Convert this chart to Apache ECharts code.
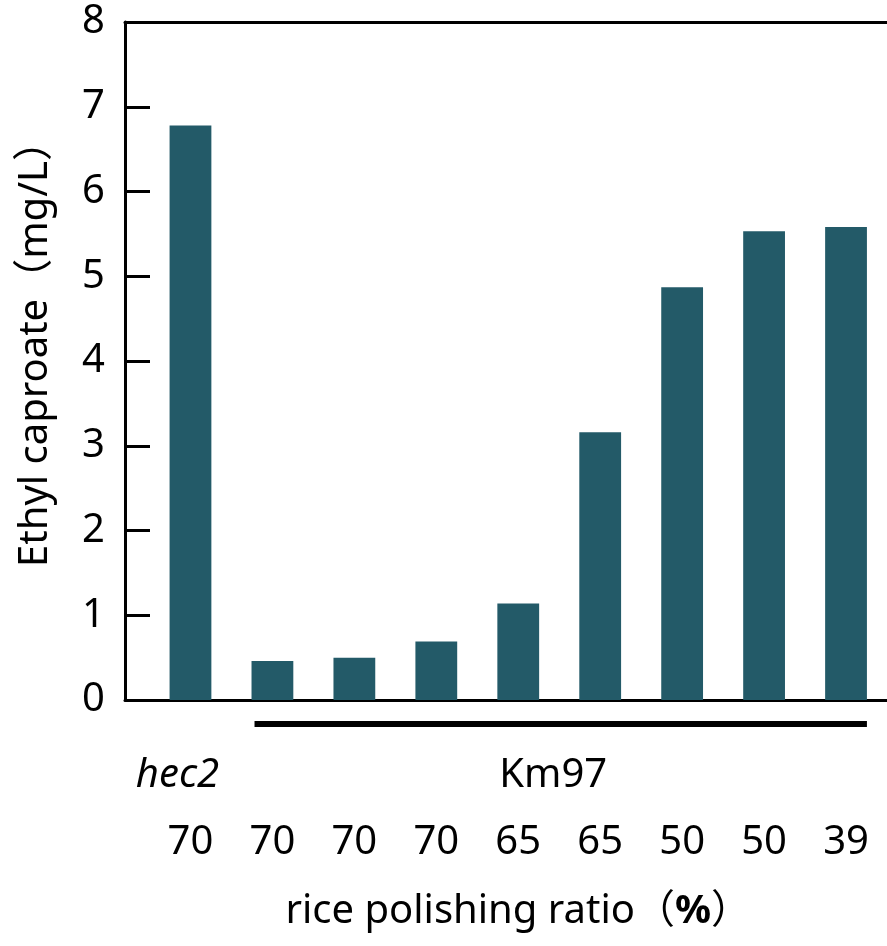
<!DOCTYPE html>
<html>
<head>
<meta charset="utf-8">
<script src="https://cdn.jsdelivr.net/npm/echarts@6/dist/echarts.min.js"></script>
<style>
  html, body { margin: 0; padding: 0; background: #fff; }
  #chart { width: 887px; height: 946px; }
</style>
</head>
<body>
<div id="chart"></div>
<script>
// data
const strains = ['hec2', 'Km97', 'Km97', 'Km97', 'Km97', 'Km97', 'Km97', 'Km97', 'Km97'];
const polishing = ['70', '70', '70', '70', '65', '65', '50', '50', '39'];
const caproate = [6.78, 0.46, 0.50, 0.69, 1.14, 3.16, 4.87, 5.53, 5.58];

const FONT = "'Noto Sans', 'Noto Sans CJK JP', sans-serif";
const BAR_COLOR = '#235a68';

const chart = echarts.init(document.getElementById('chart'), null, {renderer: 'canvas'});

const categories = strains.map((s, i) => s + '_' + i);

const hiddenLine = {show: false};
const frameAxis = (pos) => ({
    type: 'value', gridIndex: 1, position: pos, min: 0, max: 1,
    axisLine: {show: true, lineStyle: {color: '#000', width: 3}},
    axisTick: hiddenLine, axisLabel: hiddenLine, splitLine: hiddenLine
});

const option = {
    animation: false,
    textStyle: {fontFamily: FONT},
    grid: [
        {left: 149.5, right: -1.5, top: 22, bottom: 246},  // bars
        {left: 125, right: -3, top: 22, bottom: 246}       // frame + y axis
    ],
    xAxis: [
        {
            type: 'category', gridIndex: 0, data: categories,
            axisLine: hiddenLine, axisTick: hiddenLine, splitLine: hiddenLine,
            axisLabel: {
                margin: 123, fontSize: 40, color: '#000', fontFamily: FONT,
                interval: 0,
                formatter: (v, i) => polishing[i]
            },
            name: 'rice polishing ratio（{b|%}）',
            nameLocation: 'middle', nameGap: 192,
            nameTextStyle: {
                fontSize: 40, color: '#000', fontFamily: FONT,
                rich: {b: {fontSize: 40, fontWeight: 'bold', color: '#000', fontFamily: FONT}}
            }
        },
        frameAxis('bottom'),
        frameAxis('top')
    ],
    yAxis: [
        {type: 'value', gridIndex: 0, min: 0, max: 8, show: false},
        {
            type: 'value', gridIndex: 1, min: 0, max: 8, interval: 1,
            axisLine: {show: true, lineStyle: {color: '#000', width: 3}},
            axisTick: {show: true, inside: true, length: 25, lineStyle: {color: '#000', width: 3}},
            axisLabel: {fontSize: 40, color: '#000', margin: 20, fontFamily: FONT},
            splitLine: hiddenLine,
            name: 'Ethyl caproate（mg/L）',
            nameLocation: 'middle', nameRotate: 90, nameGap: 69,
            nameTextStyle: {fontSize: 40, color: '#000', fontFamily: FONT, padding: [0, 0, 0, 34]}
        }
    ],
    series: [{
        type: 'bar', xAxisIndex: 0, yAxisIndex: 0,
        data: caproate,
        barWidth: '51%',
        itemStyle: {color: BAR_COLOR}
    }]
};

chart.setOption(option);

// strain labels and the bracket under the Km97 group
const px = (i) => chart.convertToPixel({xAxisIndex: 0}, i);
const step = px(1) - px(0);
const halfBar = step * 0.51 / 2;
const kmIdx = strains.map((s, i) => s === 'Km97' ? i : -1).filter(i => i >= 0);
const kmFirst = kmIdx[0], kmLast = kmIdx[kmIdx.length - 1];

chart.setOption({
    graphic: [
        {
            type: 'line',
            shape: {x1: px(kmFirst) - halfBar + 3, y1: 724, x2: px(kmLast) + halfBar, y2: 724},
            style: {stroke: '#000', lineWidth: 6}
        },
        {
            type: 'text', x: px(0) - 13, y: 776,
            style: {text: 'hec2', font: 'italic 40px ' + FONT, fill: '#000', align: 'center', verticalAlign: 'middle'}
        },
        {
            type: 'text', x: (px(kmFirst) + px(kmLast)) / 2 - 6, y: 776,
            style: {text: 'Km97', font: '40px ' + FONT, fill: '#000', align: 'center', verticalAlign: 'middle'}
        }
    ]
});

window.addEventListener('resize', () => chart.resize());
</script>
</body>
</html>
